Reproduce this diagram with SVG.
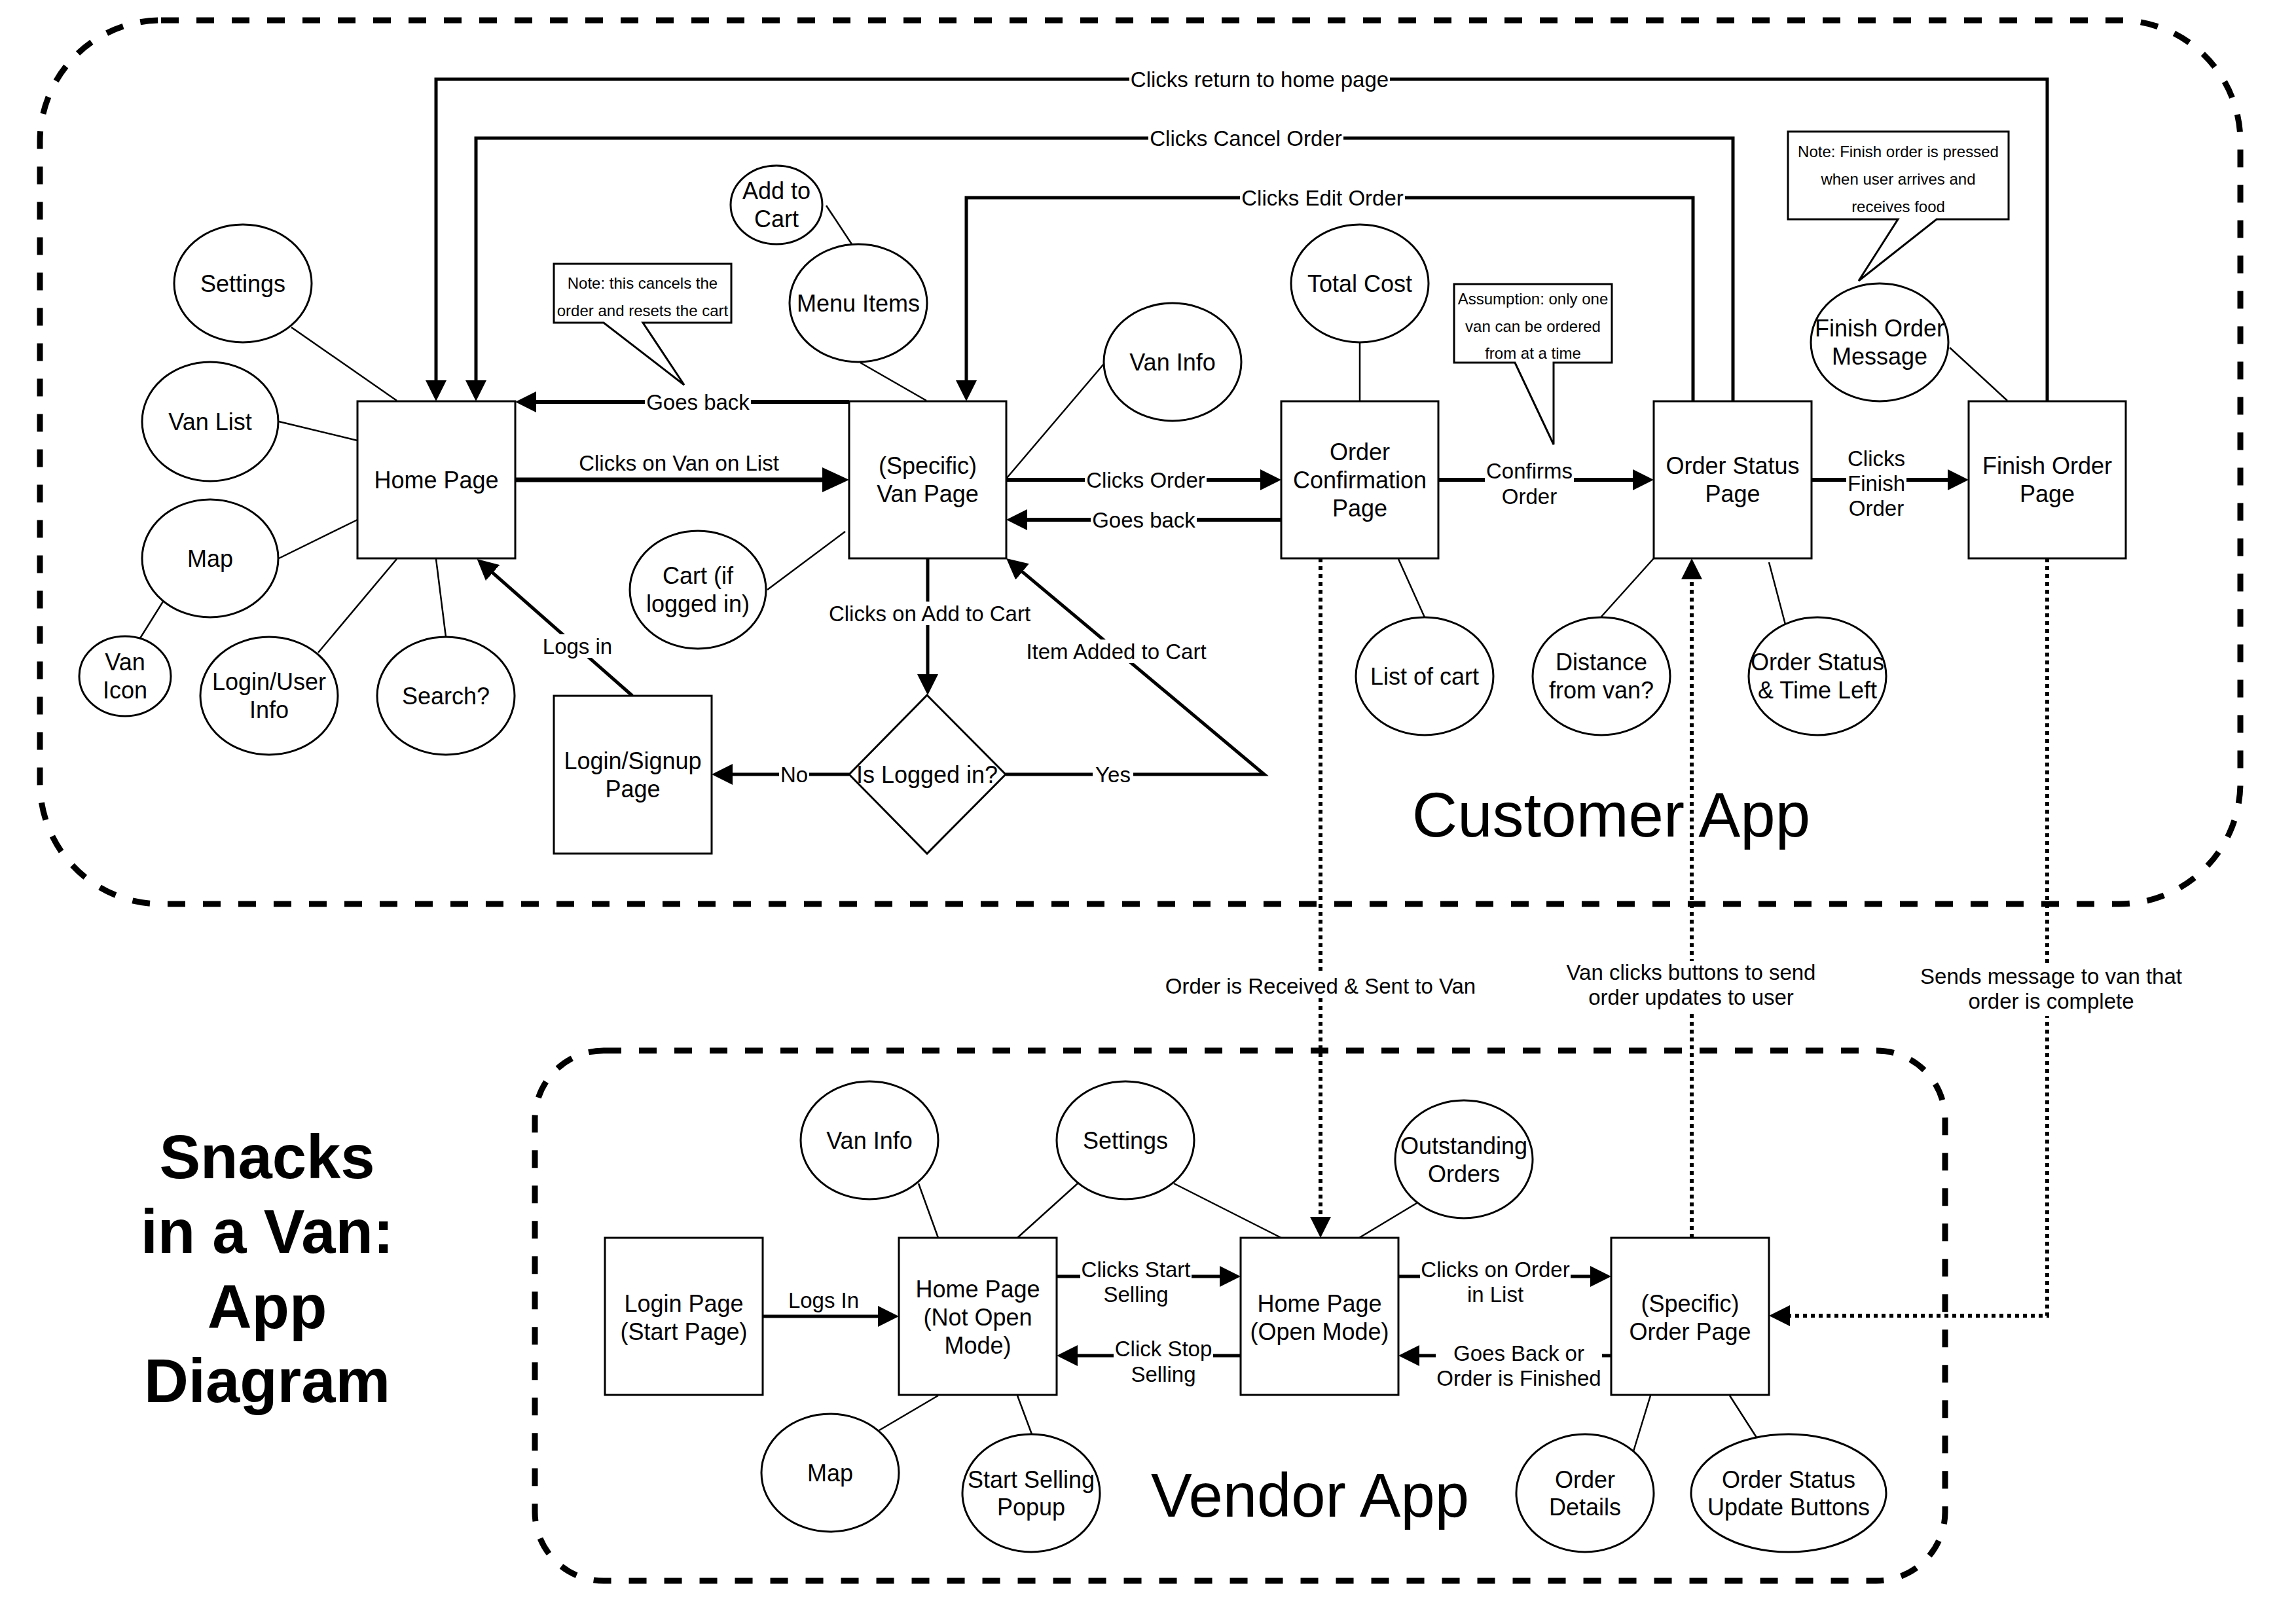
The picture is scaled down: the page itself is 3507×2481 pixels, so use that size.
<svg xmlns="http://www.w3.org/2000/svg" width="3507" height="2481" viewBox="0 0 3507 2481">
<style>
text{font-family:"Liberation Sans",Arial,Helvetica,sans-serif;fill:#000;text-anchor:middle}
.n{font-size:36px}
.e{font-size:33px}
.note{font-size:24px}
.shape{fill:#fff;stroke:#000;stroke-width:3}
.thin{fill:none;stroke:#000;stroke-width:2.5}
.arrow{fill:none;stroke:#000;stroke-width:5;marker-end:url(#ah)}
.arrow6{fill:none;stroke:#000;stroke-width:6;marker-end:url(#ah)}
.dot{fill:none;stroke:#000;stroke-width:6;stroke-dasharray:6 6;marker-end:url(#ah)}
.bg{fill:#fff}
.group{fill:none;stroke:#000;stroke-width:9;stroke-dasharray:27 27}
</style>
<defs>
<marker id="ah" markerUnits="userSpaceOnUse" markerWidth="32" markerHeight="32" refX="17" refY="16" orient="auto">
<path d="M0,0 L32,16 L0,32 Z" fill="#000"/>
</marker>
<marker id="ahBig" markerUnits="userSpaceOnUse" markerWidth="41" markerHeight="38" refX="26" refY="19" orient="auto">
<path d="M0,0 L41,19 L0,38 Z" fill="#000"/>
</marker>
</defs>
<rect width="3507" height="2481" fill="#fff"/>

<g id="containers">
<rect class="group" x="61" y="31" width="3361" height="1350" rx="185" ry="185"/>
<rect class="group" x="817" y="1605" width="2154" height="810" rx="105" ry="105"/>
</g>

<g id="titles">
<text x="408" y="1800" style="font-size:94px;font-weight:bold">Snacks</text>
<text x="408" y="1914" style="font-size:94px;font-weight:bold">in a Van:</text>
<text x="408" y="2029" style="font-size:94px;font-weight:bold">App</text>
<text x="408" y="2142" style="font-size:94px;font-weight:bold">Diagram</text>
<text x="2461" y="1278" style="font-size:96px">Customer App</text>
<text x="2001" y="2317" style="font-size:94px">Vendor App</text>
</g>

<g id="connectors">
<path class="thin" d="M445,500 L606,612"/>
<path class="thin" d="M426,644 L546,673"/>
<path class="thin" d="M426,853 L546,794"/>
<path class="thin" d="M249,919 L214,975"/>
<path class="thin" d="M486,997 L606,854"/>
<path class="thin" d="M681,973 L666,854"/>
<path class="thin" d="M1262,314 L1301,373"/>
<path class="thin" d="M1314,554 L1415,612"/>
<path class="thin" d="M1686,556 L1538,730"/>
<path class="thin" d="M1172,901 L1291,812"/>
<path class="thin" d="M2077,523 L2077,613"/>
<path class="thin" d="M2136,854 L2176,943"/>
<path class="thin" d="M2526,853 L2446,942"/>
<path class="thin" d="M2702,859 L2727,954"/>
<path class="thin" d="M2978,531 L3066,612"/>
<path class="thin" d="M1403,1808 L1433,1891"/>
<path class="thin" d="M1646,1808 L1554,1891"/>
<path class="thin" d="M1793,1808 L1957,1891"/>
<path class="thin" d="M2164,1838 L2076,1891"/>
<path class="thin" d="M1343,2185 L1433,2132"/>
<path class="thin" d="M1576,2191 L1554,2132"/>
<path class="thin" d="M2495,2217 L2521,2132"/>
<path class="thin" d="M2683,2196 L2642,2132"/>

<path class="arrow" d="M3127,613 V121 H666 V598"/>
<path class="arrow" d="M2647,613 V211 H727 V598"/>
<path class="arrow" d="M2586,613 V302 H1476 V598"/>
<path class="arrow6" d="M1297,614 H802"/>
<path d="M787,733 H1282" fill="none" stroke="#000" stroke-width="7" marker-end="url(#ahBig)"/>
<path class="arrow6" d="M1537,733 H1942"/>
<path class="arrow6" d="M1957,794 H1552"/>
<path class="arrow6" d="M2197,733 H2511"/>
<path class="arrow6" d="M2767,733 H2992"/>
<path class="arrow" d="M1417,853 V1047"/>
<path class="arrow" d="M1297,1183 H1102"/>
<path class="arrow" d="M1536,1183 H1931 L1548.5,862.6"/>
<path class="arrow" d="M966,1063 L739.8,863.9"/>

<path class="arrow" d="M1165,2011 H1358"/>
<path class="arrow" d="M1614,1950 H1880"/>
<path class="arrow" d="M1895,2071 H1629"/>
<path class="arrow" d="M2136,1950 H2446"/>
<path class="arrow" d="M2461,2071 H2151"/>

<path class="dot" d="M2017,853 V1876"/>
<path class="dot" d="M2584,1891 V868"/>
<path class="dot" d="M3127,853 V2010 H2717"/>

<rect class="bg" x="1725" y="103" width="398" height="36"/>
<text class="e" x="1924" y="132.5">Clicks return to home page</text>
<rect class="bg" x="1754" y="193" width="298" height="36"/>
<text class="e" x="1903" y="222.5">Clicks Cancel Order</text>
<rect class="bg" x="1894" y="284" width="252" height="36"/>
<text class="e" x="2020" y="313.5">Clicks Edit Order</text>
<rect class="bg" x="985" y="596" width="162" height="36"/>
<text class="e" x="1066" y="625.5">Goes back</text>
<text class="e" x="1037" y="719">Clicks on Van on List</text>
<rect class="bg" x="1657" y="715" width="186" height="36"/>
<text class="e" x="1750" y="744.5">Clicks Order</text>
<rect class="bg" x="1666" y="776" width="162" height="36"/>
<text class="e" x="1747" y="805.5">Goes back</text>
<rect class="bg" x="2268" y="703" width="136" height="76"/>
<text class="e" x="2336" y="731">Confirms</text>
<text class="e" x="2336" y="770">Order</text>
<rect class="bg" x="2820" y="684" width="92" height="112"/>
<text class="e" x="2866" y="712">Clicks</text>
<text class="e" x="2866" y="750">Finish</text>
<text class="e" x="2866" y="788">Order</text>
<rect class="bg" x="1263" y="919" width="314" height="36"/>
<text class="e" x="1420" y="948.5">Clicks on Add to Cart</text>
<rect class="bg" x="1190" y="1165" width="46" height="36"/>
<text class="e" x="1213" y="1194.5">No</text>
<rect class="bg" x="1669" y="1165" width="62" height="36"/>
<text class="e" x="1700" y="1194.5">Yes</text>
<rect class="bg" x="1564" y="977" width="282" height="36"/>
<text class="e" x="1705" y="1006.5">Item Added to Cart</text>
<rect class="bg" x="827" y="969" width="110" height="36"/>
<text class="e" x="882" y="998.5">Logs in</text>

<text class="e" x="1258" y="1998">Logs In</text>
<rect class="bg" x="1650" y="1922" width="170" height="76"/>
<text class="e" x="1735" y="1951">Clicks Start</text>
<text class="e" x="1735" y="1989">Selling</text>
<rect class="bg" x="1701" y="2043" width="152" height="76"/>
<text class="e" x="1777" y="2072">Click Stop</text>
<text class="e" x="1777" y="2111">Selling</text>
<rect class="bg" x="2169" y="1922" width="230" height="76"/>
<text class="e" x="2284" y="1951">Clicks on Order</text>
<text class="e" x="2284" y="1989">in List</text>
<rect class="bg" x="2193" y="2050" width="254" height="76"/>
<text class="e" x="2320" y="2079">Goes Back or</text>
<text class="e" x="2320" y="2117">Order is Finished</text>

<rect class="bg" x="1779" y="1489" width="476" height="36"/>
<text class="e" x="2017" y="1518">Order is Received &amp; Sent to Van</text>
<rect class="bg" x="2390" y="1468" width="387" height="78"/>
<text class="e" x="2583" y="1497">Van clicks buttons to send</text>
<text class="e" x="2583" y="1535">order updates to user</text>
<rect class="bg" x="2931" y="1474" width="404" height="78"/>
<text class="e" x="3133" y="1503">Sends message to van that</text>
<text class="e" x="3133" y="1541">order is complete</text>
</g>

<g id="home-page"><rect class="shape" x="546" y="613" width="241" height="240"/><text class="n" x="666.5" y="745.5">Home Page</text></g>
<g id="van-page"><rect class="shape" x="1297" y="613" width="240" height="240"/><text class="n" x="1417" y="724">(Specific)</text><text class="n" x="1417" y="767">Van Page</text></g>
<g id="order-confirmation"><rect class="shape" x="1957" y="613" width="240" height="240"/><text class="n" x="2077" y="702.5">Order</text><text class="n" x="2077" y="745.5">Confirmation</text><text class="n" x="2077" y="788.5">Page</text></g>
<g id="order-status-page"><rect class="shape" x="2526" y="613" width="241" height="240"/><text class="n" x="2646.5" y="724">Order Status</text><text class="n" x="2646.5" y="767">Page</text></g>
<g id="finish-order-page"><rect class="shape" x="3007" y="613" width="240" height="240"/><text class="n" x="3127" y="724">Finish Order</text><text class="n" x="3127" y="767">Page</text></g>
<g id="login-signup"><rect class="shape" x="846" y="1063" width="241" height="241"/><text class="n" x="966.5" y="1175">Login/Signup</text><text class="n" x="966.5" y="1218">Page</text></g>
<g id="is-logged-in"><path class="shape" d="M1416,1062 L1536,1183 L1416,1304 L1297,1183 Z"/><text class="n" x="1416" y="1195.5">Is Logged in?</text></g>

<g id="settings"><ellipse class="shape" cx="371" cy="433" rx="105" ry="90"/><text class="n" x="371" y="445.5">Settings</text></g>
<g id="van-list"><ellipse class="shape" cx="321" cy="644" rx="104" ry="91"/><text class="n" x="321" y="656.5">Van List</text></g>
<g id="map"><ellipse class="shape" cx="321" cy="853" rx="104" ry="90"/><text class="n" x="321" y="865.5">Map</text></g>
<g id="van-icon"><ellipse class="shape" cx="191" cy="1033" rx="70" ry="61"/><text class="n" x="191" y="1024">Van</text><text class="n" x="191" y="1067">Icon</text></g>
<g id="login-user-info"><ellipse class="shape" cx="411" cy="1063" rx="105" ry="90"/><text class="n" x="411" y="1054">Login/User</text><text class="n" x="411" y="1097">Info</text></g>
<g id="search"><ellipse class="shape" cx="681" cy="1063" rx="105" ry="90"/><text class="n" x="681" y="1075.5">Search?</text></g>
<g id="cart"><ellipse class="shape" cx="1066" cy="901" rx="104" ry="90"/><text class="n" x="1066" y="892">Cart (if</text><text class="n" x="1066" y="935">logged in)</text></g>
<g id="add-to-cart"><ellipse class="shape" cx="1186" cy="313" rx="70" ry="60"/><text class="n" x="1186" y="304">Add to</text><text class="n" x="1186" y="347">Cart</text></g>
<g id="menu-items"><ellipse class="shape" cx="1311" cy="463" rx="105" ry="90"/><text class="n" x="1311" y="475.5">Menu Items</text></g>
<g id="van-info"><ellipse class="shape" cx="1791" cy="553" rx="105" ry="90"/><text class="n" x="1791" y="565.5">Van Info</text></g>
<g id="total-cost"><ellipse class="shape" cx="2077" cy="433" rx="105" ry="90"/><text class="n" x="2077" y="445.5">Total Cost</text></g>
<g id="list-of-cart"><ellipse class="shape" cx="2176" cy="1033" rx="105" ry="90"/><text class="n" x="2176" y="1045.5">List of cart</text></g>
<g id="distance"><ellipse class="shape" cx="2446" cy="1033" rx="105" ry="90"/><text class="n" x="2446" y="1024">Distance</text><text class="n" x="2446" y="1067">from van?</text></g>
<g id="status-time"><ellipse class="shape" cx="2776" cy="1033" rx="105" ry="90"/><text class="n" x="2776" y="1024">Order Status</text><text class="n" x="2776" y="1067">&amp; Time Left</text></g>
<g id="finish-message"><ellipse class="shape" cx="2871" cy="523" rx="105" ry="90"/><text class="n" x="2871" y="514">Finish Order</text><text class="n" x="2871" y="557">Message</text></g>

<g id="note-cancel"><path class="shape" d="M846,403 H1117 V493 H982 L1045,588 L922,493 H846 Z"/><text class="note" x="981.5" y="441">Note: this cancels the</text><text class="note" x="981.5" y="483">order and resets the cart</text></g>
<g id="note-assumption"><path class="shape" d="M2221,434 H2462 V554 H2373 V679 L2314,554 H2221 Z"/><text class="note" x="2341.5" y="465">Assumption: only one</text><text class="note" x="2341.5" y="507">van can be ordered</text><text class="note" x="2341.5" y="548">from at a time</text></g>
<g id="note-finish"><path class="shape" d="M2731,201 H3068 V335 H2958 L2839,429 L2899,335 H2731 Z"/><text class="note" x="2899.5" y="240">Note: Finish order is pressed</text><text class="note" x="2899.5" y="282">when user arrives and</text><text class="note" x="2899.5" y="324">receives food</text></g>

<g id="v-login"><rect class="shape" x="924" y="1891" width="241" height="240"/><text class="n" x="1044.5" y="2004">Login Page</text><text class="n" x="1044.5" y="2047">(Start Page)</text></g>
<g id="v-home-closed"><rect class="shape" x="1373" y="1891" width="241" height="240"/><text class="n" x="1493.5" y="1982">Home Page</text><text class="n" x="1493.5" y="2025">(Not Open</text><text class="n" x="1493.5" y="2068">Mode)</text></g>
<g id="v-home-open"><rect class="shape" x="1895" y="1891" width="241" height="240"/><text class="n" x="2015.5" y="2004">Home Page</text><text class="n" x="2015.5" y="2047">(Open Mode)</text></g>
<g id="v-order-page"><rect class="shape" x="2461" y="1891" width="241" height="240"/><text class="n" x="2581.5" y="2004">(Specific)</text><text class="n" x="2581.5" y="2047">Order Page</text></g>
<g id="v-van-info"><ellipse class="shape" cx="1328" cy="1742" rx="105" ry="90"/><text class="n" x="1328" y="1754.5">Van Info</text></g>
<g id="v-settings"><ellipse class="shape" cx="1719" cy="1742" rx="105" ry="90"/><text class="n" x="1719" y="1754.5">Settings</text></g>
<g id="v-outstanding"><ellipse class="shape" cx="2236" cy="1771" rx="105" ry="90"/><text class="n" x="2236" y="1763">Outstanding</text><text class="n" x="2236" y="1806">Orders</text></g>
<g id="v-map"><ellipse class="shape" cx="1268" cy="2250" rx="105" ry="90"/><text class="n" x="1268" y="2262.5">Map</text></g>
<g id="v-start-popup"><ellipse class="shape" cx="1575" cy="2281" rx="105" ry="90"/><text class="n" x="1575" y="2273">Start Selling</text><text class="n" x="1575" y="2315">Popup</text></g>
<g id="v-order-details"><ellipse class="shape" cx="2421" cy="2281" rx="105" ry="90"/><text class="n" x="2421" y="2273">Order</text><text class="n" x="2421" y="2315">Details</text></g>
<g id="v-status-buttons"><ellipse class="shape" cx="2732" cy="2281" rx="149" ry="90"/><text class="n" x="2732" y="2273">Order Status</text><text class="n" x="2732" y="2315">Update Buttons</text></g>
</svg>
